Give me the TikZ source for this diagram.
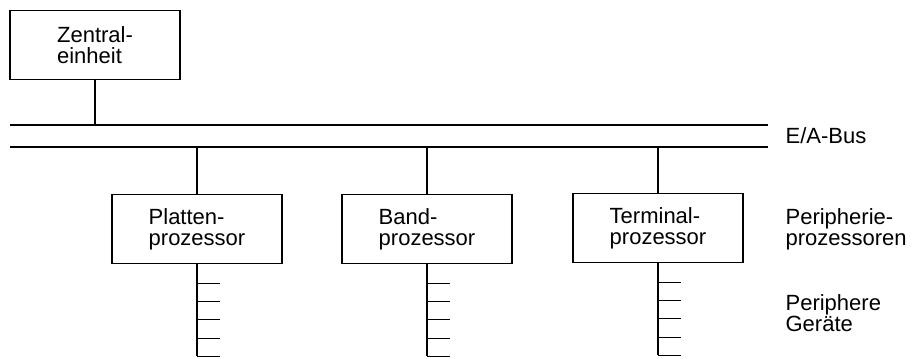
\documentclass[tikz,border=0pt]{standalone}
\usepackage{fontspec}
\setmainfont{Liberation Sans}
\usetikzlibrary{positioning}
\begin{document}
\begin{tikzpicture}[x=0.5pt,y=-0.5pt,line width=0.6pt,
    unit/.style={draw, minimum width=85pt, minimum height=34.5pt, inner sep=0pt,
                 align=left, font=\fontsize{11}{10.5}\selectfont},
    sidetext/.style={anchor=west, align=left, inner sep=0pt,
                     font=\fontsize{11}{10.5}\selectfont}]
    \useasboundingbox (0,0) rectangle (913,358);

    % Zentraleinheit
    \node[unit] (zentrale) at (95,45) {Zentral-\\einheit};

    % E/A-Bus
    \coordinate (busoben) at (10,125);
    \coordinate (busunten) at (10,147);
    \draw (busoben) -- (768,125);
    \draw (busunten) -- (768,147);
    \node[sidetext] (eabus) at (785,136) {E/A-Bus};
    \draw (zentrale.south) -- (zentrale.south |- busoben);

    % Peripherieprozessoren
    \node[unit] (platten) at (197,229) {Platten-\\prozessor};
    \node[unit] (band) at (427,229) {Band-\\prozessor};
    \node[unit] (terminal) at (658,228) {Terminal-\\prozessor};
    \node[sidetext] (pproz) at (785,229) {Peripherie-\\prozessoren};
    \foreach \p in {platten,band,terminal}
        \draw (\p.north) -- (\p.north |- busunten);

    % Periphere Geraete
    \foreach \p in {platten,band,terminal} {
        \draw (\p.south) -- ++(0,92);
        \foreach \d in {19,37,55,74,92}
            \draw (\p.south) ++(0,\d) -- ++(23,0);
    }
    \node[sidetext] (geraete) at (785,313) {Periphere\\Geräte};
\end{tikzpicture}
\end{document}
